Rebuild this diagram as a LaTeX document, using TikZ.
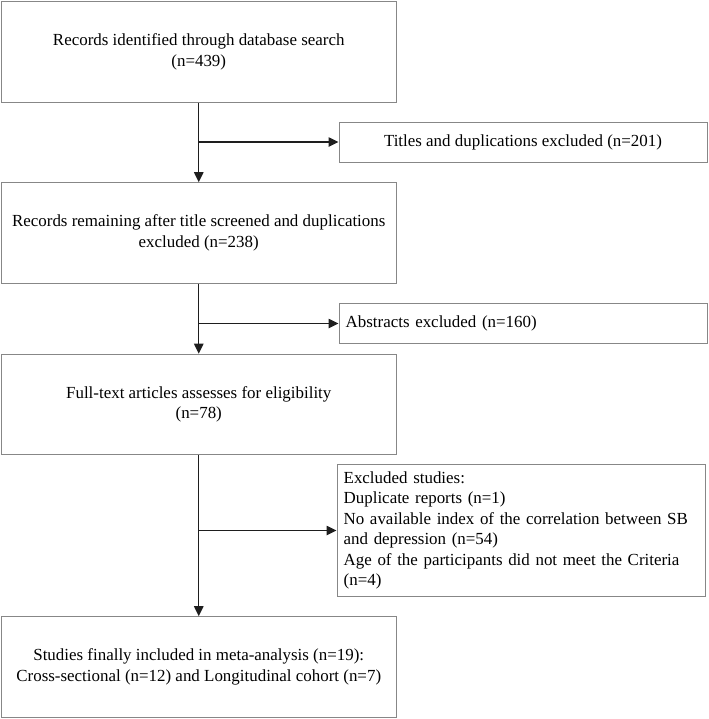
\documentclass[tikz,border=0pt]{standalone}
\usepackage{fontspec}
\setmainfont{Liberation Serif}
\usetikzlibrary{arrows.meta}
\definecolor{box_gray}{RGB}{135,135,135}
\definecolor{edge_dark}{RGB}{30,30,30}

\begin{document}
\begin{tikzpicture}[->,>={Triangle[length=7.5pt,width=7pt]},x=0.75pt,y=-0.75pt,line width=1.1pt,color=edge_dark]
    \tikzstyle{box}=[draw=box_gray, line width=0.75pt, rectangle, inner sep=0pt, align=center, text=black, font=\fontsize{12.7}{15.4}\selectfont]
    \tikzstyle{main}=[style=box, minimum width=295.9pt, minimum height=75.4pt]
    \tikzstyle{side}=[style=box, minimum width=276pt, minimum height=30pt]
    \tikzstyle{sidel}=[style=side, text width=266pt, inner xsep=5pt, align=left]

    \useasboundingbox (0,0) rectangle (709,719);

    \node[main]  (b1) at (198.75,51.75) {Records identified through database search\\(n=439)};
    \node[main]  (b2) at (198.75,233)   {Records remaining after title screened and duplications\\excluded (n=238)};
    \node[main]  (b3) at (198.75,404.5) {Full-text articles assesses for eligibility\\(n=78)};
    \node[main]  (b4) at (198.75,667)   {Studies finally included in meta-analysis (n=19):\\Cross-sectional (n=12) and Longitudinal cohort (n=7)};

    \node[side]  (t1) at (523,142)      {Titles and duplications excluded (n=201)};
    \node[sidel] (t2) at (523,323.5)    {Abstracts excluded (n=160)};
    \node[sidel, minimum height=98.3pt] (t3) at (521,530.5)
      {Excluded studies:\\Duplicate reports (n=1)\\No available index of the correlation between SB\\and depression (n=54)\\Age of the participants did not meet the Criteria\\(n=4)};

    \coordinate (j1) at (b1.south |- t1.west);
    \coordinate (j2) at (b2.south |- t2.west);
    \coordinate (j3) at (b3.south |- t3.west);

    \path
     (b1) edge (b2)
     (b2) edge (b3)
     (b3) edge (b4)
     (j1) edge (t1)
     (j2) edge (t2)
     (j3) edge (t3)
     ;
\end{tikzpicture}
\end{document}
